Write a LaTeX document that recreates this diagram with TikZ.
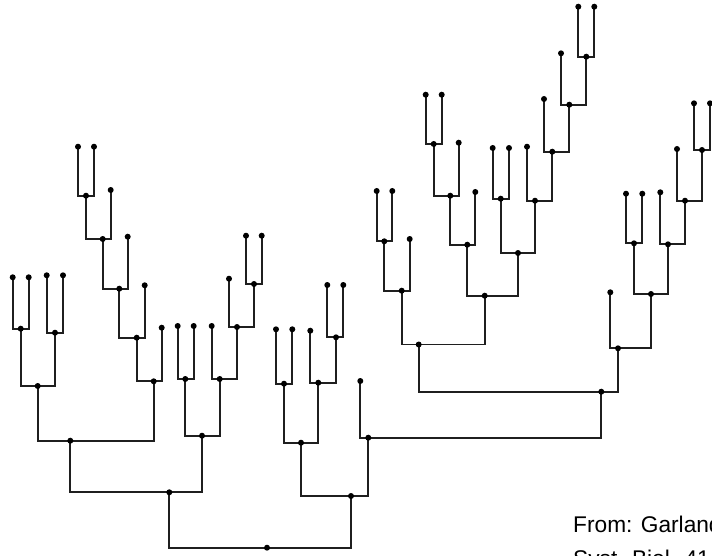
\documentclass[tikz,border=0pt]{standalone}
\usepackage{fontspec}
\setmainfont{Liberation Sans}
\begin{document}
\begin{tikzpicture}[x=1pt,y=-1pt,
  branch/.style={line width=1.8pt,color=black!88,line cap=rect},
  dotmark/.style={fill=black},
  caption/.style={anchor=base west,inner sep=0pt,font=\fontsize{22.7}{30}\selectfont}]
\useasboundingbox (0,0) rectangle (712,556);
% ---------- coordinates ----------
% left clade
\coordinate (t1) at (12.7,277.3); \coordinate (t2) at (28.7,277.3); \coordinate (a1) at (20.7,328.7);
\coordinate (t3) at (46.7,275.3); \coordinate (t4) at (63,275.3);   \coordinate (a2) at (55,332.7);
\coordinate (a3) at (37.7,386);
\coordinate (t5) at (78,146.7); \coordinate (t6) at (94,146.7); \coordinate (b1) at (86,195.7);
\coordinate (t7) at (110.7,190); \coordinate (b2) at (102.7,239);
\coordinate (t8) at (127.7,236.7); \coordinate (b3) at (119.3,288.7);
\coordinate (t9) at (144.7,285.3); \coordinate (b4) at (136.7,337.7);
\coordinate (t10) at (161.7,327.7); \coordinate (b5) at (153.7,381.3);
\coordinate (c1) at (70.3,440.7);
\coordinate (t11) at (177.7,326); \coordinate (t12) at (193.7,326); \coordinate (d1) at (185.3,379);
\coordinate (t15) at (246,235.7); \coordinate (t16) at (261.7,235.7); \coordinate (d2) at (254,284);
\coordinate (t14) at (229,278.7); \coordinate (d3) at (237,327);
\coordinate (t13) at (211.7,326); \coordinate (d4) at (219.7,379);
\coordinate (d5) at (202,435.7);
\coordinate (c2) at (169.3,492.3);
% middle
\coordinate (t17) at (276,329.3); \coordinate (t18) at (292.3,329.3); \coordinate (e1) at (284,383.7);
\coordinate (t20) at (327.3,285); \coordinate (t21) at (343.3,285); \coordinate (e2) at (336,337.3);
\coordinate (t19) at (310.3,330.7); \coordinate (e3) at (318.3,382.7);
\coordinate (e4) at (301,442.7);
\coordinate (t22) at (360.3,381); \coordinate (g1) at (368.3,437.7);
\coordinate (e5) at (351,496);
\coordinate (root) at (267,547.7);
% right clade
\coordinate (t23) at (376.7,191); \coordinate (t24) at (392.3,191); \coordinate (h1) at (384.3,241.3);
\coordinate (t25) at (409.7,239); \coordinate (h2) at (401.7,290.7);
\coordinate (t26) at (425.7,94.7); \coordinate (t27) at (441.7,94.7); \coordinate (i1) at (433.7,144);
\coordinate (t28) at (458.7,142.7); \coordinate (i2) at (450.3,195.7);
\coordinate (t29) at (475.3,192); \coordinate (i3) at (467.3,244.7);
\coordinate (t30) at (492.7,148); \coordinate (t31) at (509,148); \coordinate (j1) at (500.7,198.7);
\coordinate (t36) at (578.3,6.7); \coordinate (t37) at (594.3,6.7); \coordinate (k1) at (586.3,56.7);
\coordinate (t35) at (561,53.3); \coordinate (k2) at (569.3,104.7);
\coordinate (t34) at (544,99); \coordinate (k3) at (552.3,151.7);
\coordinate (t33) at (527,146.7); \coordinate (k4) at (535,200.7);
\coordinate (j2) at (518,253);
\coordinate (i4) at (484.7,295.7);
\coordinate (h3) at (418.7,344.5);
\coordinate (t42) at (694,103.3); \coordinate (t43) at (710,103.3); \coordinate (m1) at (702,150);
\coordinate (t41) at (677,149); \coordinate (m2) at (685,200.7);
\coordinate (t38) at (626,193.7); \coordinate (t39) at (642.3,193.7); \coordinate (n1) at (634,243.3);
\coordinate (t40) at (660.3,192.3); \coordinate (m3) at (668,244.3);
\coordinate (n2) at (651,294);
\coordinate (t44) at (610.3,292.3); \coordinate (n3) at (618,348.3);
\coordinate (f) at (601.3,391.7);
% ---------- branches ----------
\foreach \c/\p in {t1/a1,t2/a1,t3/a2,t4/a2,a1/a3,a2/a3,
  t5/b1,t6/b1,b1/b2,t7/b2,b2/b3,t8/b3,b3/b4,t9/b4,b4/b5,t10/b5,a3/c1,b5/c1,
  t11/d1,t12/d1,t15/d2,t16/d2,t14/d3,d2/d3,t13/d4,d3/d4,d1/d5,d4/d5,c1/c2,d5/c2,
  t17/e1,t18/e1,t20/e2,t21/e2,t19/e3,e2/e3,e1/e4,e3/e4,t22/g1,f/g1,e4/e5,g1/e5,c2/root,e5/root,
  t23/h1,t24/h1,h1/h2,t25/h2,t26/i1,t27/i1,i1/i2,t28/i2,i2/i3,t29/i3,
  t30/j1,t31/j1,t36/k1,t37/k1,t35/k2,k1/k2,t34/k3,k2/k3,t33/k4,k3/k4,j1/j2,k4/j2,
  i3/i4,j2/i4,h2/h3,i4/h3,
  t42/m1,t43/m1,t41/m2,m1/m2,t38/n1,t39/n1,t40/m3,m2/m3,n1/n2,m3/n2,t44/n3,n2/n3,h3/f,n3/f}
  {\draw[branch] (\c) |- (\p);}
% ---------- dots ----------
\foreach \n in {t1,t2,t3,t4,t5,t6,t7,t8,t9,t10,t11,t12,t13,t14,t15,t16,t17,t18,t19,t20,t21,t22,
  t23,t24,t25,t26,t27,t28,t29,t30,t31,t33,t34,t35,t36,t37,t38,t39,t40,t41,t42,t43,t44,
  a1,a2,a3,b1,b2,b3,b4,b5,c1,c2,d1,d2,d3,d4,d5,e1,e2,e3,e4,e5,g1,root,
  h1,h2,h3,i1,i2,i3,i4,j1,j2,k1,k2,k3,k4,m1,m2,m3,n1,n2,n3,f}
  {\fill[dotmark] (\n) circle (3);}
% ---------- caption ----------
\node[caption] (cap1) at (573,532) {From: Garland};
\node[caption] (cap2) at (573,566) {Syst. Biol. 41};
\end{tikzpicture}
\end{document}
